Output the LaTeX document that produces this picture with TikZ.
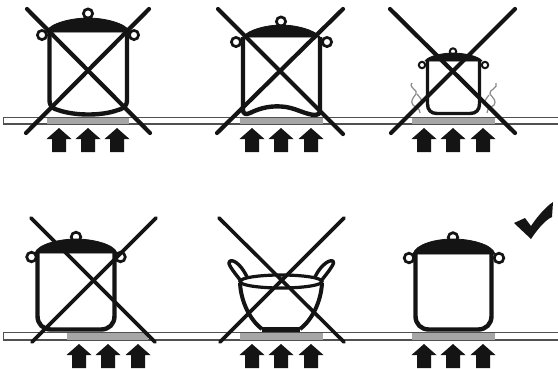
\documentclass[tikz,border=0pt]{standalone}
\usetikzlibrary{calc}
\definecolor{potBlack}{HTML}{141414}
\definecolor{hotGrey}{HTML}{A6A6A6}
\definecolor{shelfLine}{HTML}{505050}
\definecolor{steamGrey}{HTML}{8A8A8A}
\tikzset{
  potline/.style={draw=potBlack, line width=4.4pt, line join=round},
  potthin/.style={draw=potBlack, line width=2.7pt},
  lidfill/.style={fill=potBlack, draw=potBlack, line width=0.8pt, line join=round},
  crossline/.style={draw=potBlack, line width=4.2pt, line cap=round},
  shelfbox/.style={draw=shelfLine, fill=white, line width=1.2pt},
  hotzone/.style={fill=hotGrey},
  steam/.style={draw=steamGrey, line width=1.2pt},
  heatarrow/.pic={
    \fill[potBlack] (0,0) -- (12.5,11) -- (7,11) -- (7,24) -- (-7,24) -- (-7,11) -- (-12.5,11) -- cycle;
  },
}
\begin{document}
\begin{tikzpicture}[x=1pt, y=-1pt]
  \useasboundingbox (0,0) rectangle (558,368);
  \fill[white] (0,0) rectangle (558,368);

  % === Shelves ===
  \draw[shelfbox] (558,117.5) -- (3.5,117.5) -- (3.5,124) -- (558,124);
  \draw[shelfbox] (558,332.5) -- (3.5,332.5) -- (3.5,340) -- (558,340);

  % === Hot zones and arrows ===
  \fill[hotzone] (47,118) rectangle (129,123.5);
  \fill[hotzone] (240,118) rectangle (323,123.5);
  \fill[hotzone] (412,118) rectangle (495,123.5);
  \fill[hotzone] (67,333) rectangle (148,339.5);
  \fill[hotzone] (240,333) rectangle (323,339.5);
  \fill[hotzone] (412,333) rectangle (495,339.5);
  \foreach \ax in {59,88,117,252,281,311,424,453,483}
    \pic at (\ax,128) {heatarrow};
  \foreach \ax in {79,108,138,252,281,311,424,453,483}
    \pic at (\ax,344) {heatarrow};

  % === Pot 1: bulging base ===
  \draw[potthin] (88,13.5) circle (4.6);
  \draw[potthin] (42,35) circle (4.6);
  \draw[potthin] (134,35) circle (4.6);
  \path[lidfill] (46,32) .. controls (50,23) and (72,18) .. (88,18) .. controls (104,18) and (126,23) .. (130,32) -- cycle;
  \draw[potline] (49.5,32) -- (49.5,100) .. controls (49.5,107) and (54,109) .. (58,110)
    .. controls (75,116) and (102,116) .. (118,110) .. controls (122,109) and (127,107) .. (127,100) -- (127,32);
  \draw[crossline] (27,9) -- (150,133);
  \draw[crossline] (149,9) -- (26,133);

  % === Pot 2: hollow base ===
  \draw[potthin] (281,21.5) circle (4.6);
  \draw[potthin] (236,42) circle (4.6);
  \draw[potthin] (327,42) circle (4.6);
  \path[lidfill] (243,37) .. controls (248,30) and (266,25) .. (281,25) .. controls (296,25) and (315,30) .. (320,37) -- cycle;
  \draw[potline] (243,37) -- (243,110) .. controls (243,114) and (246,115) .. (250,113)
    .. controls (262,107) and (272,106) .. (281,106.5) .. controls (295,107) and (305,115) .. (316,115)
    .. controls (319,115) and (320,113) .. (320,110) -- (320,37);
  \draw[crossline] (218,9) -- (343,134);
  \draw[crossline] (343,9) -- (217,133);

  % === Pot 3: small pot with steam ===
  \draw[steam] (412,83) .. controls (408,88) and (419,90) .. (416,94) .. controls (413,98) and (410,101) .. (413,105) .. controls (416,108) and (420,108) .. (420,113);
  \draw[steam] (417,94) .. controls (420,98) and (423,100) .. (422,104);
  \draw[steam] (496,83) .. controls (499,88) and (488,90) .. (490,94) .. controls (493,98) and (497,101) .. (494,105) .. controls (491,108) and (487,108) .. (487,113);
  \draw[steam] (489,95) .. controls (486,99) and (484,101) .. (485,105);
  \draw[potthin, line width=2pt] (453,51.5) circle (3.2);
  \draw[potthin, line width=2pt] (422,65) circle (3.2);
  \draw[potthin, line width=2pt] (485,65) circle (3.2);
  \path[lidfill] (425,61) .. controls (428,56) and (443,53) .. (453,53) .. controls (463,53) and (479,56) .. (482,61) -- cycle;
  \draw[potline, line width=3.4pt] (427.5,61) -- (427.5,104) .. controls (427.5,110) and (431,113.5) .. (437,113.5)
    -- (470,113.5) .. controls (476,113.5) and (479.5,110) .. (479.5,104) -- (479.5,61);
  \draw[crossline] (390,9) -- (515,133);
  \draw[crossline] (515,9) -- (391,133);

  % === Pot 4: pot off centre ===
  \draw[potthin] (76,237) circle (4.8);
  \draw[potthin] (31.5,257) circle (4.8);
  \draw[potthin] (120.5,257) circle (4.8);
  \path[lidfill] (35,253) .. controls (38,244) and (60,239) .. (76,239) .. controls (92,239) and (114,244) .. (117,253) -- cycle;
  \draw[potline] (37.5,253) -- (37.5,316) .. controls (37.5,324) and (43,329.5) .. (51,329.5)
    -- (101,329.5) .. controls (109,329.5) and (114.5,324) .. (114.5,316) -- (114.5,253);
  \draw[crossline, line width=3.6pt] (31,218) -- (155,342);
  \draw[crossline, line width=3.6pt] (156,218) -- (32,342);

  % === Pot 5: round bowl ===
  \draw[potthin, line width=3.2pt] (281,281.5) ellipse (41 and 6.5);
  \draw[potline, line width=3.4pt] (241,281) .. controls (233,271) and (226,262) .. (230,261) .. controls (235,259) and (243,268) .. (247,277);
  \draw[potline, line width=3.4pt] (321,281) .. controls (329,271) and (336,262) .. (333,261) .. controls (328,259) and (319,268) .. (315,277);
  \draw[potline, line width=4pt] (240,283) .. controls (241,302) and (250,320) .. (262,329);
  \draw[potline, line width=4pt] (322,283) .. controls (321,302) and (312,320) .. (300,329);
  \draw[potline, line width=5pt] (262,329) -- (300,329);
  \draw[crossline, line width=3.6pt] (219,218) -- (344,342);
  \draw[crossline, line width=3.6pt] (344,218) -- (220,342);

  % === Pot 6: correct pot ===
  \draw[potthin] (453,237.5) circle (4.8);
  \draw[potthin] (409,258) circle (4.8);
  \draw[potthin] (499,258) circle (4.8);
  \path[lidfill] (413,254) .. controls (416,244) and (436,239) .. (453,239) .. controls (470,239) and (492,244) .. (495,254) -- cycle;
  \draw[potline] (415.5,254) -- (415.5,316) .. controls (415.5,324) and (421,329.5) .. (429,329.5)
    -- (478,329.5) .. controls (486,329.5) and (491.5,324) .. (491.5,316) -- (491.5,254);

  % === Check mark ===
  \fill[potBlack] (514,223) -- (525,218) -- (531,226) .. controls (535,220) and (544,208) .. (553,202)
    -- (552,217) .. controls (545,220) and (537,230) .. (531,239) -- cycle;
\end{tikzpicture}
\end{document}
